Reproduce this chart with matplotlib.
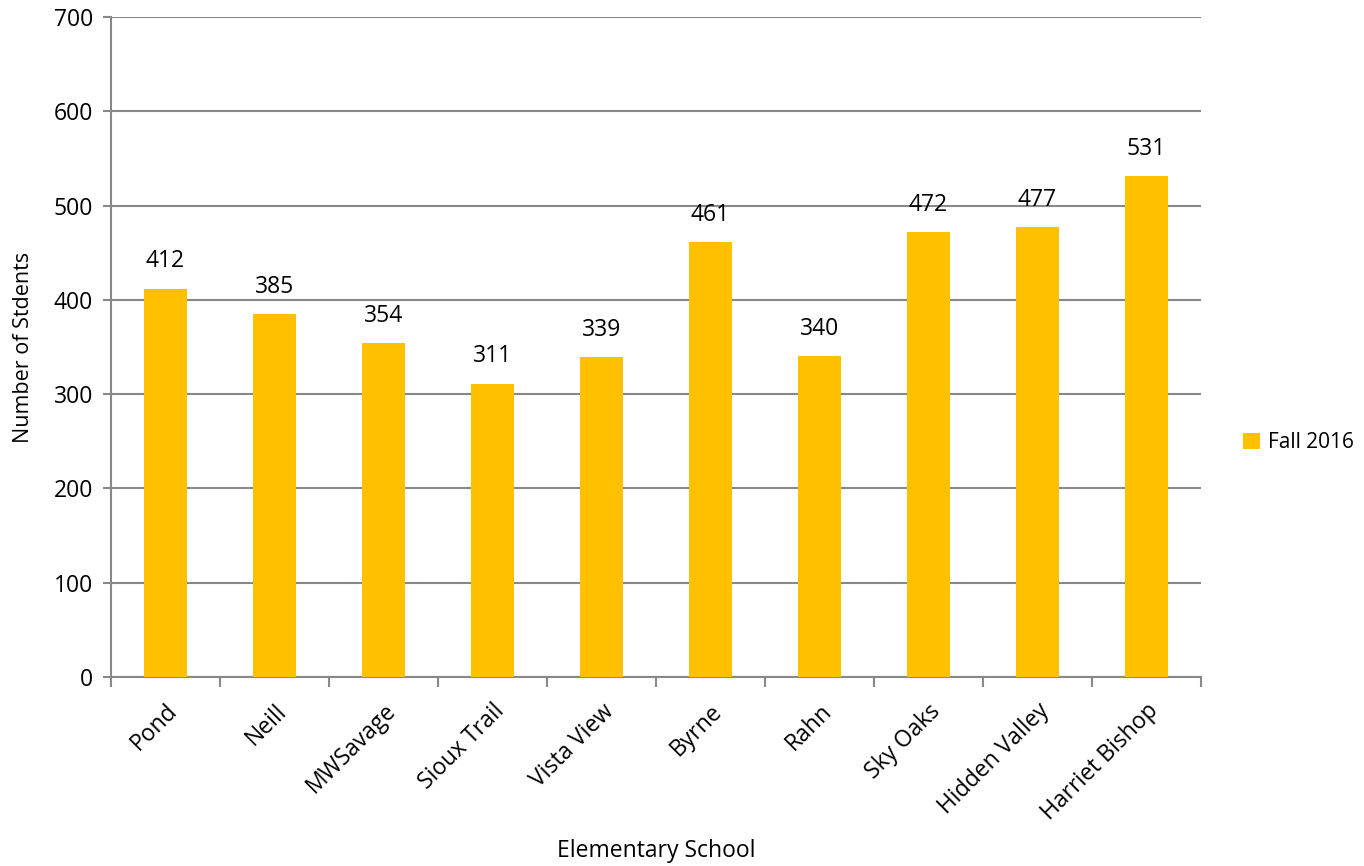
import matplotlib.pyplot as plt
import numpy as np

plt.rcParams['font.family'] = ['Open Sans', 'DejaVu Sans']

schools = ['Pond', 'Neill', 'MWSavage', 'Sioux Trail', 'Vista View', 'Byrne',
           'Rahn', 'Sky Oaks', 'Hidden Valley', 'Harriet Bishop']
students = [412, 385, 354, 311, 339, 461, 340, 472, 477, 531]
yticks = [0, 100, 200, 300, 400, 500, 600, 700]

bar_color = '#FFC000'
grid_color = '#888888'

fig = plt.figure(figsize=(13.64, 8.66), dpi=100)
ax = fig.add_axes([111/1364, 1-677/866, 1090/1364, 660/866])

x = np.arange(len(schools))
bars = ax.bar(x, students, width=0.4, color=bar_color, label='Fall 2016', zorder=3)

for xi, v in zip(x, students):
    ax.annotate(str(v), (xi, v), xytext=(0, 11), textcoords='offset points',
                ha='center', va='bottom', fontsize=16.5)

ax.set_xlim(-0.5, len(schools) - 0.5)
ax.set_ylim(0, 700)
ax.set_yticks(yticks)
ax.set_yticklabels([str(t) for t in yticks], fontsize=16.5)
ax.yaxis.grid(True, color=grid_color, linewidth=1.5, zorder=0)
ax.set_axisbelow(True)

ax.set_xticks(np.arange(len(schools) + 1) - 0.5)
ax.set_xticklabels([])
ax.set_xticks(x, minor=True)
ax.set_xticklabels(schools, minor=True, rotation=45, ha='right',
                   rotation_mode='anchor', fontsize=16.5)
ax.tick_params(axis='x', which='minor', length=0, pad=16)
ax.tick_params(axis='x', which='major', length=7, width=1.5, color=grid_color)
ax.tick_params(axis='y', length=6, width=1.5, color=grid_color, pad=7)

for s in ['top', 'right']:
    ax.spines[s].set_visible(False)
for s in ['left', 'bottom']:
    ax.spines[s].set_color(grid_color)
    ax.spines[s].set_linewidth(1.5)

ax.set_ylabel('Number of Stdents', fontsize=15.5, labelpad=14)
fig.text(656/1364, 1-851/866, 'Elementary School', ha='center', va='center', fontsize=16.5)

fig.legend(handles=[bars], labels=['Fall 2016'], loc='center left',
           bbox_to_anchor=(1243/1364, 1-443/866), frameon=False, fontsize=15,
           borderpad=0, borderaxespad=0,
           handlelength=0.8, handleheight=0.8, handletextpad=0.4)

fig.savefig('out.png', dpi=100)
